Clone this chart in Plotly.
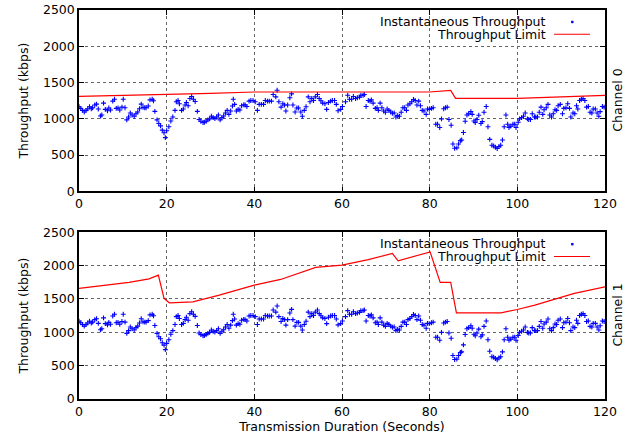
import plotly.graph_objects as go

# ---- data ----
time_s = [0.0, 0.4, 0.8, 1.2, 1.6, 2.0, 2.4, 2.8, 3.1, 3.6, 4.0, 4.4, 4.9, 5.2, 5.6, 6.0, 6.5, 6.8, 7.2, 7.7,
          8.1, 8.5, 8.9, 9.3, 9.8, 10.1, 10.5, 10.9, 11.3, 11.7, 12.1, 12.6, 13.0, 13.4, 13.8, 14.2, 14.6, 15.0, 15.3, 15.8,
          16.2, 16.7, 17.0, 17.3, 17.8, 18.2, 18.6, 19.0, 19.4, 19.7, 20.0, 20.5, 20.95, 21.4, 21.9, 22.2, 22.6, 22.9, 23.4, 23.8,
          24.2, 24.5, 24.9, 25.3, 25.7, 26.1, 26.5, 27.0, 27.4, 27.8, 28.3, 28.6, 29.0, 29.4, 29.8, 30.2, 30.6, 31.0, 31.4, 31.8,
          32.2, 32.6, 33.0, 33.4, 33.8, 34.2, 34.6, 35.0, 35.2, 35.5, 35.9, 36.3, 36.7, 37.1, 37.6, 37.9, 38.3, 38.8, 39.2, 39.7,
          40.2, 40.7, 41.1, 41.6, 42.1, 42.5, 43.0, 43.4, 43.9, 44.3, 44.9, 45.2, 45.6, 46.1, 46.5, 46.9, 47.2, 47.6, 48.1, 48.5,
          48.8, 49.3, 49.7, 50.1, 50.6, 50.95, 51.4, 51.8, 52.3, 52.7, 53.1, 53.5, 53.9, 54.4, 54.8, 55.2, 55.6, 56.1, 56.5, 56.9,
          57.4, 57.8, 58.3, 58.7, 59.1, 59.7, 60.1, 60.8, 61.3, 61.7, 62.2, 62.6, 63.1, 63.5, 64.0, 64.3, 64.8, 65.1, 65.5, 66.0,
          66.4, 66.7, 67.1, 67.6, 68.0, 68.3, 68.7, 69.1, 69.5, 69.9, 70.3, 70.7, 71.1, 71.5, 71.9, 72.3, 72.7, 73.1, 73.5, 73.9,
          74.3, 74.7, 75.05, 75.5, 75.9, 76.3, 76.7, 77.1, 77.5, 77.9, 78.3, 78.7, 79.2, 79.5, 79.9, 80.4, 80.8, 81.4, 81.8, 82.3,
          82.7, 83.2, 83.6, 84.0, 84.4, 84.9, 85.3, 85.7, 86.2, 86.6, 87.0, 87.3, 87.7, 88.1, 88.5, 88.9, 89.4, 89.7, 90.1, 90.4,
          90.8, 91.2, 91.7, 92.0, 92.4, 92.9, 93.3, 93.7, 94.2, 94.6, 95.0, 95.4, 95.8, 96.2, 96.6, 97.0, 97.4, 97.8, 98.1, 98.5,
          99.0, 99.4, 99.7, 100.2, 100.5, 100.96, 101.4, 101.8, 102.3, 102.6, 103.0, 103.4, 103.9, 104.2, 104.6, 105.0, 105.4, 105.8, 106.1, 106.6,
          107.0, 107.4, 107.8, 108.2, 108.6, 108.96, 109.3, 109.8, 110.3, 110.6, 111.1, 111.5, 111.9, 112.2, 112.7, 113.1, 113.5, 113.8, 114.2, 114.6,
          115.0, 115.4, 115.8, 116.2, 116.6, 117.0, 117.3, 117.8, 118.2, 118.6, 118.9, 119.4, 119.8]

throughput_kbps = [1166, 1143, 1116, 1093, 1116, 1139, 1166, 1139, 1152, 1189, 1202, 1134, 1039, 1052, 1216, 1130, 1111, 1148, 1120, 1243,
                   1270, 1143, 1148, 1120, 1161, 1270, 1152, 984, 1025, 1080, 1052, 1034, 1070, 1093, 1139, 1202, 1157, 1152, 1152, 1175,
                   1261, 1270, 1248, 1102, 984, 934, 902, 843, 807, 740, 834, 889, 970, 1025, 1116, 1234, 1252, 1207, 1116, 1134,
                   1189, 1225, 1180, 1280, 1307, 1270, 1239, 1102, 989, 966, 948, 952, 966, 984, 998, 1034, 1016, 1002, 1025, 1052,
                   984, 1016, 1039, 1080, 1116, 1061, 1107, 1175, 1270, 1198, 1107, 1130, 1120, 1180, 1193, 1189, 1170, 1243, 1252, 1252,
                   1234, 1116, 1198, 1198, 1198, 1252, 1243, 1243, 1243, 1334, 1302, 1393, 1234, 1161, 1207, 1189, 1107, 1189, 1289, 1343,
                   1189, 1093, 1148, 1148, 1093, 1034, 1116, 1166, 1302, 1234, 1280, 1252, 1302, 1334, 1280, 1248, 1216, 1207, 1130, 1225,
                   1243, 1252, 1252, 1198, 1111, 1130, 1170, 1234, 1325, 1270, 1270, 1307, 1280, 1289, 1298, 1325, 1325, 1334, 1170, 1252,
                   1243, 1261, 1216, 1143, 1152, 1116, 1216, 1152, 1107, 1089, 1134, 1116, 1093, 1075, 1080, 1025, 1043, 1034, 1089, 1152,
                   1152, 1116, 1189, 1207, 1234, 1266, 1252, 1189, 1243, 1180, 1116, 1107, 1061, 1134, 1130, 1143, 1152, 925, 925, 880,
                   998, 1139, 1152, 1161, 989, 911, 652, 593, 598, 652, 698, 707, 811, 966, 1052, 1070, 1098, 1061, 970, 948,
                   989, 1048, 934, 961, 1089, 1170, 889, 716, 634, 625, 607, 589, 616, 634, 707, 889, 1052, 925, 880, 898,
                   925, 925, 880, 952, 998, 1016, 1034, 1080, 998, 989, 989, 1070, 1025, 1025, 1025, 1089, 1161, 1061, 1125, 1152,
                   1198, 1052, 1025, 1070, 1125, 1116, 1180, 1198, 1070, 1143, 1152, 1207, 1143, 1025, 1080, 1070, 1180, 1134, 1252, 1270,
                   1280, 1252, 1161, 1170, 1089, 1080, 1134, 1134, 1080, 1034, 1098, 1170, 1161]

limit0_t = [0, 10, 20, 30, 40, 60, 80, 84.8, 85.9, 100, 110, 120]
limit0_v = [1309, 1320, 1332, 1350, 1369, 1369, 1369, 1392, 1282, 1282, 1300, 1323]

limit1_t = [0, 7, 11.4, 16, 18.1, 19.4, 20.6, 26, 32, 40, 46, 54, 60, 66, 71.5, 72.8, 80.1, 82.4, 84.8, 86.1, 96.3, 100, 104, 113, 120]
limit1_v = [1657, 1707, 1747, 1801, 1856, 1507, 1442, 1457, 1557, 1707, 1792, 1972, 2006, 2090, 2181, 2070, 2205, 1747, 1747, 1292, 1292, 1342, 1407, 1582, 1681]

channel_labels = ["Channel 0", "Channel 1"]
legend_labels = ["Instantaneous Throughput", "Throughput Limit"]
x_title = "Transmission Duration (Seconds)"
y_title = "Throughput (kbps)"

# ---- figure ----
W, H = 627, 439
FONT = "DejaVu Sans"
FS = 12.5
BLUE = "#0000ff"
RED = "#ff0000"

fig = go.Figure()
limits = [(limit0_t, limit0_v), (limit1_t, limit1_v)]
for i, (lt, lv) in enumerate(limits):
    xa = "x" if i == 0 else "x2"
    ya = "y" if i == 0 else "y2"
    fig.add_trace(go.Scatter(x=time_s, y=throughput_kbps, mode="markers", xaxis=xa, yaxis=ya,
                             marker=dict(symbol="cross-thin", size=3.5,
                                         line=dict(width=1.1, color=BLUE), color=BLUE),
                             showlegend=False))
    fig.add_trace(go.Scatter(x=lt, y=lv, mode="lines", xaxis=xa, yaxis=ya,
                             line=dict(color=RED, width=1.2), showlegend=False))

# layout geometry (pixels)
L, R, T, B = 79, 22, 9.5, 40
ph = H - T - B
top_dom = [(399 - 191) / ph, 1.0]
bot_dom = [0.0, (399 - 232) / ph]

axis_common = dict(showline=True, linecolor="black", linewidth=1.5, mirror="ticks",
                   ticks="inside", ticklen=5, tickwidth=1, tickcolor="black",
                   showgrid=True, gridcolor="#666", griddash="dot", gridwidth=1,
                   zeroline=False, automargin=False,
                   tickfont=dict(family=FONT, size=FS, color="black"))

fig.update_layout(
    width=W, height=H, margin=dict(l=L, r=R, t=T, b=B, autoexpand=False),
    paper_bgcolor="white", plot_bgcolor="white",
    font=dict(family=FONT, size=FS, color="black"),
    xaxis=dict(range=[0, 120], dtick=20, tick0=0, domain=[0, 1], anchor="y", **axis_common),
    yaxis=dict(range=[0, 2500], dtick=500, tick0=0, domain=top_dom, anchor="x",
               title=dict(text=y_title, standoff=12, font=dict(family=FONT, size=FS)), **axis_common),
    xaxis2=dict(range=[0, 120], dtick=20, tick0=0, domain=[0, 1], anchor="y2",
                title=dict(text=x_title, standoff=4, font=dict(family=FONT, size=FS)), **axis_common),
    yaxis2=dict(range=[0, 2500], dtick=500, tick0=0, domain=bot_dom, anchor="x2",
                title=dict(text=y_title, standoff=12, font=dict(family=FONT, size=FS)), **axis_common),
)

def py_to_paper(py):
    return (H - B - py) / ph

def px_to_paper(px):
    return (px - L) / (W - L - R)

annotations = []
shapes = []
panel_tops = [9.5, 232]
panel_bots = [191, 399]
for i in range(2):
    off = panel_tops[i] - 9.5
    # channel labels
    annotations.append(dict(text=channel_labels[i], textangle=-90, xref="paper", yref="paper",
                            x=px_to_paper(618), y=py_to_paper((panel_tops[i] + panel_bots[i]) / 2),
                            xanchor="center", yanchor="middle", showarrow=False,
                            font=dict(family=FONT, size=FS, color="black")))
    # legend texts
    for j, lab in enumerate(legend_labels):
        annotations.append(dict(text=lab, xref="paper", yref="paper",
                                x=px_to_paper(547.5), y=py_to_paper(21.0 + 13 * j + off),
                                xanchor="right", yanchor="middle", showarrow=False,
                                font=dict(family=FONT, size=FS, color="black")))
    # legend samples
    cy = py_to_paper(21.5 + off)
    dx = 1.2 / (W - L - R)
    dy = 1.2 / ph
    shapes.append(dict(type="rect", xref="paper", yref="paper",
                       x0=px_to_paper(572.3) - dx, x1=px_to_paper(572.3) + dx,
                       y0=cy - dy, y1=cy + dy, fillcolor=BLUE, line=dict(width=0)))
    ly = py_to_paper(33.8 + off)
    shapes.append(dict(type="line", xref="paper", yref="paper",
                       x0=px_to_paper(554), x1=px_to_paper(590), y0=ly, y1=ly,
                       line=dict(color=RED, width=1.2)))

fig.update_layout(annotations=annotations, shapes=shapes)
fig.write_html("out.html")
